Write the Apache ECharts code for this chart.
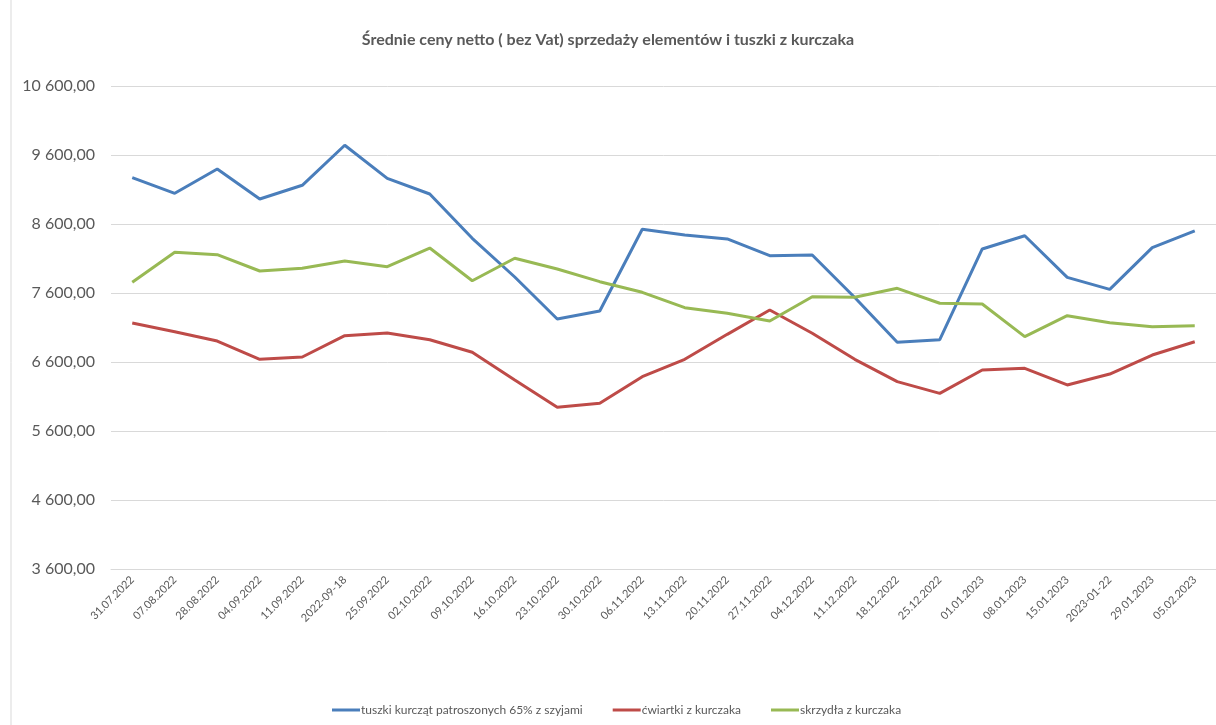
<!DOCTYPE html>
<html>
<head>
<meta charset="utf-8">
<script src="https://cdn.jsdelivr.net/npm/echarts@6/dist/echarts.min.js"></script>
<style>
html,body{margin:0;padding:0;background:#fff;}
#chart{width:1216px;height:725px;}
</style>
</head>
<body>
<div id="chart"></div>
<script>
const categories = ["31.07.2022","07.08.2022","28.08.2022","04.09.2022","11.09.2022","2022-09-18","25.09.2022","02.10.2022","09.10.2022","16.10.2022","23.10.2022","30.10.2022","06.11.2022","13.11.2022","20.11.2022","27.11.2022","04.12.2022","11.12.2022","18.12.2022","25.12.2022","01.01.2023","08.01.2023","15.01.2023","2023-01-22","29.01.2023","05.02.2023"];
const tuszki = [9271,9045,9397,8962,9161,9741,9262,9035,8393,7832,7223,7339,8523,8441,8383,8141,8151,7535,6886,6923,8238,8430,7827,7653,8257,8499];
const cwiartki = [7165,7039,6904,6639,6672,6981,7020,6923,6741,6339,5943,6001,6387,6639,7001,7354,7016,6639,6315,6146,6484,6509,6267,6426,6701,6894];
const skrzydla = [7755,8190,8155,7919,7958,8064,7981,8252,7778,8103,7948,7764,7610,7387,7306,7194,7546,7538,7668,7451,7440,6967,7271,7170,7112,7126];
const seriesNames = ["tuszki kurcząt patroszonych 65% z szyjami","ćwiartki z kurczaka","skrzydła z kurczaka"];
const yMin = 3600, yMax = 10600, yStep = 1000;

function fmt(v){
  const s = Math.round(v).toString().replace(/\B(?=(\d{3})+(?!\d))/g,' ');
  return s + ',00';
}
const chart = echarts.init(document.getElementById('chart'));
const font = 'Lato, "Open Sans", sans-serif';
chart.setOption({
  backgroundColor:'#fff',
  animation:false,
  textStyle:{fontFamily:font},
  title:{
    text:'Średnie ceny netto ( bez Vat) sprzedaży elementów i tuszki z kurczaka',
    left:'center', top:27,
    textStyle:{fontFamily:font,fontSize:16,fontWeight:'bold',color:'#595959'}
  },
  graphic:[{type:'line',shape:{x1:11,y1:0,x2:11,y2:725},style:{stroke:'#d9d9d9',lineWidth:1}}],
  legend:{
    left:327, top:699,
    itemWidth:28, itemHeight:3, itemGap:30,
    icon:'rect',
    textStyle:{fontFamily:font,fontSize:12,color:'#595959',padding:[0,0,0,-4]},
    data:seriesNames
  },
  grid:{left:111, width:1107, top:86, height:483},
  xAxis:{
    type:'category', data:categories, boundaryGap:true,
    axisLine:{lineStyle:{color:'#d9d9d9'}},
    axisTick:{show:false},
    axisLabel:{rotate:45, interval:0, margin:9, fontSize:11, color:'#595959', fontFamily:font}
  },
  yAxis:{
    type:'value', min:yMin, max:yMax, interval:yStep,
    axisLine:{show:false}, axisTick:{show:false},
    splitLine:{lineStyle:{color:'#d9d9d9',width:1}},
    axisLabel:{formatter:fmt, fontSize:16, color:'#595959', margin:16, fontFamily:font}
  },
  series:[
    {name:seriesNames[0],type:'line',data:tuszki,showSymbol:false,symbol:'none',lineStyle:{width:3,color:'#4A7EBB'},itemStyle:{color:'#4A7EBB'}},
    {name:seriesNames[1],type:'line',data:cwiartki,showSymbol:false,symbol:'none',lineStyle:{width:3,color:'#BE4B48'},itemStyle:{color:'#BE4B48'}},
    {name:seriesNames[2],type:'line',data:skrzydla,showSymbol:false,symbol:'none',lineStyle:{width:3,color:'#98B954'},itemStyle:{color:'#98B954'}}
  ]
});
</script>
</body>
</html>
